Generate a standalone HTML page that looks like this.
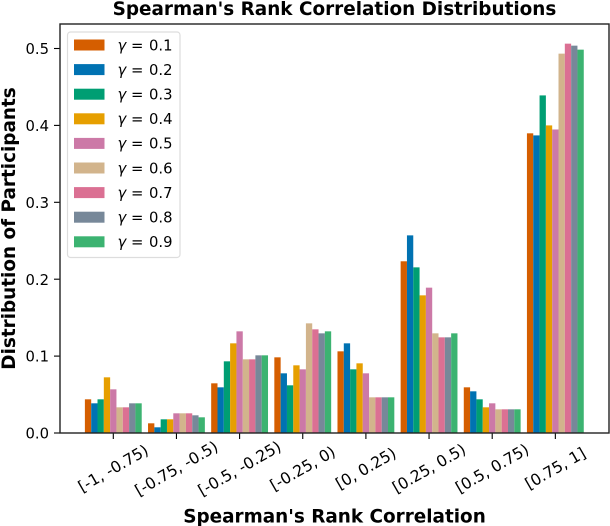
<!DOCTYPE html>
<html lang="en">
<head>
<meta charset="utf-8">
<title>Spearman's Rank Correlation Distributions</title>
<style>
html,body{margin:0;padding:0;background:#fff;width:610px;height:526px;overflow:hidden}
svg{display:block;font-family:"DejaVu Sans","Liberation Sans",sans-serif;fill:#000}
</style>
</head>
<body>
<svg id="chart" width="610" height="526" viewBox="0 0 610 526" xmlns="http://www.w3.org/2000/svg">
  <text x="334.5" y="15" text-anchor="middle" font-size="18.4" font-weight="700">Spearman's Rank Correlation Distributions</text>
  <text x="334.5" y="522.5" text-anchor="middle" font-size="18.4" font-weight="700">Spearman's Rank Correlation</text>
  <text transform="translate(15,228.5) rotate(-90)" text-anchor="middle" font-size="18.4" font-weight="700">Distribution of Participants</text>
  <g id="bars"></g>
  <g id="y-axis"></g>
  <g id="x-axis"></g>
  <rect x="60" y="24" width="549" height="409" fill="none" stroke="#222" stroke-width="1.4"></rect>
  <g id="legend"></g>
</svg>
<script>
var categories = ["[-1, -0.75)", "[-0.75, -0.5)", "[-0.5, -0.25)", "[-0.25, 0)", "[0, 0.25)", "[0.25, 0.5)", "[0.5, 0.75)", "[0.75, 1]"];
var seriesNames = ["0.1", "0.2", "0.3", "0.4", "0.5", "0.6", "0.7", "0.8", "0.9"];
var seriesColors = ["#D55E00", "#0072B2", "#009E73", "#E69F00", "#CC79A7", "#D2B48C", "#DB7093", "#778899", "#3CB371"];
var gamma01 = [0.0438, 0.0126, 0.0646, 0.0984, 0.1062, 0.2233, 0.0594, 0.3897];
var gamma02 = [0.0386, 0.0074, 0.0594, 0.0776, 0.1166, 0.2570, 0.0542, 0.3870];
var gamma03 = [0.0438, 0.0178, 0.0932, 0.0620, 0.0828, 0.2154, 0.0438, 0.4390];
var gamma04 = [0.0724, 0.0178, 0.1166, 0.0880, 0.0906, 0.1790, 0.0334, 0.4000];
var gamma05 = [0.0568, 0.0256, 0.1322, 0.0828, 0.0776, 0.1890, 0.0386, 0.3947];
var gamma06 = [0.0334, 0.0256, 0.0958, 0.1426, 0.0464, 0.1296, 0.0308, 0.4933];
var gamma07 = [0.0334, 0.0256, 0.0958, 0.1348, 0.0464, 0.1244, 0.0308, 0.5063];
var gamma08 = [0.0386, 0.0230, 0.1010, 0.1296, 0.0464, 0.1244, 0.0308, 0.5037];
var gamma09 = [0.0386, 0.0204, 0.1010, 0.1322, 0.0464, 0.1296, 0.0308, 0.4985];
var seriesValues = [gamma01, gamma02, gamma03, gamma04, gamma05, gamma06, gamma07, gamma08, gamma09];
var yTicks = [0, 0.1, 0.2, 0.3, 0.4, 0.5];
var yTickLabels = ["0.0", "0.1", "0.2", "0.3", "0.4", "0.5"];

var NS = "http://www.w3.org/2000/svg";
function xScale(i) { return 113.3 + i * 63.15; }
function yScale(v) { return 433 - v * 769; }
function make(tag, parent, attrs) {
  var el = document.createElementNS(NS, tag);
  for (var k in attrs) el.setAttribute(k, attrs[k]);
  parent.appendChild(el);
  return el;
}

var barsGroup = document.getElementById("bars");
var barWidth = 6.315;
seriesValues.forEach(function (values, s) {
  values.forEach(function (v, c) {
    var x = xScale(c) + (s - 4.5) * barWidth;
    var rect = make("rect", barsGroup, {x: x, y: yScale(v), width: barWidth, height: 433 - yScale(v), fill: seriesColors[s]});
    
    
  });
});

var yAxis = document.getElementById("y-axis");
yTicks.forEach(function (t, i) {
  var tick = make("line", yAxis, {x1: 54, x2: 60, y1: yScale(t), y2: yScale(t), stroke: "#000", "stroke-width": 1.1});
  
  
  var label = make("text", yAxis, {x: 49, y: yScale(t) + 5.6, "text-anchor": "end", "font-size": 14.8});
  
  
  label.textContent = yTickLabels[i];
});

var xAxis = document.getElementById("x-axis");
categories.forEach(function (c, i) {
  var px = xScale(i);
  var tick = make("line", xAxis, {x1: px, x2: px, y1: 433, y2: 439, stroke: "#000", "stroke-width": 1.1});
  
  
  var label = make("text", xAxis, {"text-anchor": "middle", "font-size": 15.6, transform: "translate(" + px + ",468.5) rotate(-30)", y: 5.2});
  
  
  label.textContent = c;
});

var legend = document.getElementById("legend");
var legendBox = make("rect", legend, {x: 67.5, y: 32, width: 112.5, height: 225.5, rx: 3, fill: "#fff", "fill-opacity": 0.85, stroke: "#ddd", "stroke-width": 1.2});


seriesNames.forEach(function (name, i) {
  var ry = 39.5 + i * 24.6;
  var swatch = make("rect", legend, {x: 74, y: ry, width: 30.5, height: 11, fill: seriesColors[i]});
  
  
  var label = make("text", legend, {x: 117.5, y: ry + 10.8, "font-size": 14.8});
  
  
  var g = make("tspan", label, {"font-style": "italic"});
  g.textContent = "\u03B3";
  var eq = make("tspan", label, {x: 131});
  eq.textContent = "=";
  var rest = make("tspan", label, {x: 149});
  rest.textContent = name;
});
</script>
</body>
</html>
